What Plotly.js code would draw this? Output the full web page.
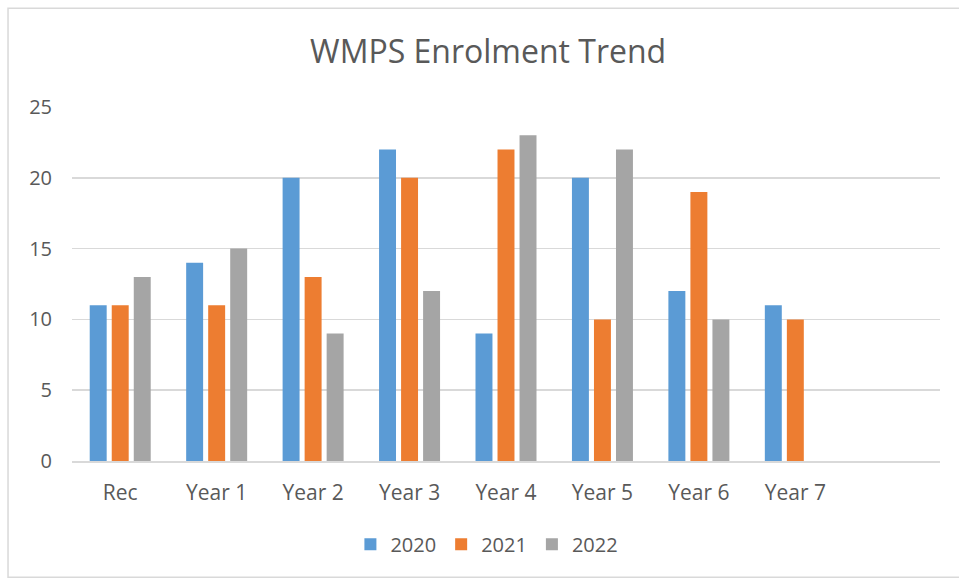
<!DOCTYPE html>
<html>
<head>
<meta charset="utf-8">
<script src="https://cdn.plot.ly/plotly-3.0.1.min.js"></script>
<style>
  html, body { margin: 0; padding: 0; background: #ffffff; }
  #chart { width: 959px; height: 579px; }
</style>
</head>
<body>
<div id="chart"></div>
<script>
const categories = ["Rec", "Year 1", "Year 2", "Year 3", "Year 4", "Year 5", "Year 6", "Year 7"];
const seriesNames = ["2020", "2021", "2022"];
const values2020 = [11, 14, 20, 22, 9, 20, 12, 11];
const values2021 = [11, 11, 13, 20, 22, 10, 19, 10];
const values2022 = [13, 15, 9, 12, 23, 22, 10, null];
const seriesColors = ["#5b9bd5", "#ed7d31", "#a5a5a5"];
const yTicks = [0, 5, 10, 15, 20, 25];
const chartTitle = "WMPS Enrolment Trend";

const fontFamily = "'Open Sans', Lato, sans-serif";
const textColor = "#595959";

const allValues = [values2020, values2021, values2022];
const traces = allValues.map((vals, i) => ({
  type: "bar",
  name: seriesNames[i],
  x: categories,
  y: vals,
  marker: { color: seriesColors[i], line: { width: 0 } },
  hoverinfo: "x+y+name"
}));

const layout = {
  width: 959,
  height: 579,
  margin: { l: 72, r: 19, t: 107, b: 117.5 },
  paper_bgcolor: "#ffffff",
  plot_bgcolor: "#ffffff",
  barmode: "group",
  bargap: 0.315,
  bargroupgap: 0.23,
  title: {
    text: chartTitle,
    font: { family: fontFamily, size: 32, color: textColor },
    xref: "container", x: 0.509, xanchor: "center",
    yref: "container", y: 1 - 52 / 579, yanchor: "middle"
  },
  font: { family: fontFamily, size: 20, color: textColor },
  xaxis: {
    type: "category",
    range: [-0.5, 8.5],
    showgrid: false,
    showline: true,
    linecolor: "#d9d9d9",
    linewidth: 2,
    ticks: "",
    ticklabelstandoff: 12,
    tickfont: { family: fontFamily, size: 21, color: textColor },
    zeroline: false,
    fixedrange: true
  },
  yaxis: {
    range: [0, 25],
    tickvals: yTicks,
    ticktext: yTicks.map(String),
    showgrid: true,
    gridcolor: "#d9d9d9",
    gridwidth: 1.5,
    showline: false,
    zeroline: false,
    ticks: "",
    ticklabelstandoff: 19,
    tickfont: { family: fontFamily, size: 20, color: textColor },
    fixedrange: true
  },
  showlegend: true,
  legend: {
    orientation: "h",
    x: 0.478, xanchor: "center",
    y: -0.2355, yanchor: "middle",
    font: { family: fontFamily, size: 20, color: textColor },
    itemwidth: 30,
    traceorder: "normal"
  },
  shapes: [{
    type: "rect",
    xref: "paper", yref: "paper",
    x0: -0.0737, x1: 1.06,
    y0: -0.3286, y1: 1.279,
    line: { color: "#d9d9d9", width: 1.5 },
    fillcolor: "rgba(0,0,0,0)",
    layer: "below"
  }]
};

Plotly.newPlot("chart", traces, layout, { displayModeBar: false, staticPlot: true });
</script>
</body>
</html>
